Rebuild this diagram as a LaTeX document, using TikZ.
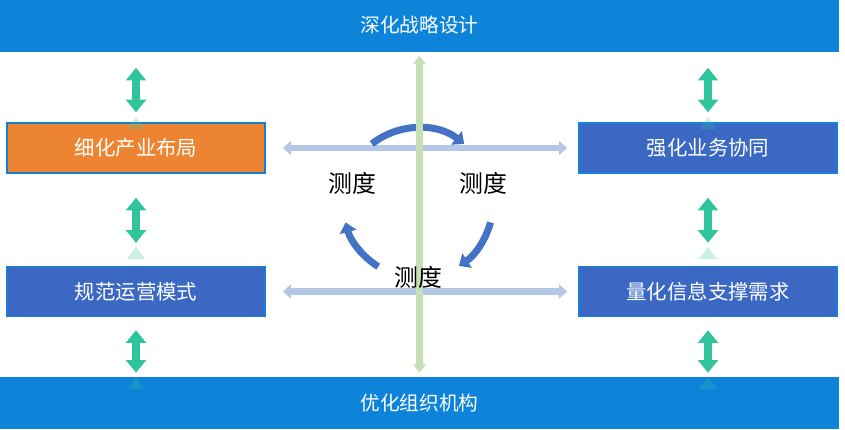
\documentclass[tikz,border=0pt]{standalone}
\usepackage{fontspec}
\setmainfont{Noto Sans CJK SC}
\usepackage{tikz}
\usetikzlibrary{arrows.meta,positioning}
\definecolor{barblue}{HTML}{0D83DA}
\definecolor{boxblue}{HTML}{3A68C2}
\definecolor{boxedge}{HTML}{1580DA}
\definecolor{boxorange}{HTML}{ED8432}
\definecolor{linkgreen}{HTML}{2FC49C}
\definecolor{spanblue}{HTML}{B4C7E7}
\definecolor{axisgreen}{HTML}{C5E0B4}
\definecolor{arcblue}{HTML}{4472C4}
\tikzstyle{bar}=[rectangle, fill=barblue, text=white, inner sep=0pt, minimum width=20.975cm, minimum height=1.3cm, font=\fontsize{14}{16}\selectfont]
\tikzstyle{box}=[rectangle, draw=boxedge, line width=1pt, fill=boxblue, text=white, inner sep=0pt, minimum width=6.45cm, minimum height=1.25cm, font=\fontsize{14.5}{16}\selectfont]
\tikzstyle{hotbox}=[box, fill=boxorange]
\tikzstyle{link}=[draw=linkgreen, line width=5.5pt, >={Triangle[width=14pt,length=9pt]}, <->]
\tikzstyle{glint}=[fill=linkgreen, opacity=.25]
\tikzstyle{span}=[draw=spanblue, line width=4.5pt, >={Triangle[width=10pt,length=6pt]}, <->]
\tikzstyle{axisline}=[draw=axisgreen, line width=5pt, >={Triangle[width=9pt,length=6pt]}, <->]
\tikzstyle{swing}=[draw=arcblue, line width=5pt, -{Triangle[width=12pt,length=7pt]}]
\tikzstyle{measure}=[font=\fontsize{17}{18}\selectfont, inner sep=0pt]

\begin{document}
\begin{tikzpicture}[x=.025cm, y=.025cm, yscale=-1]
	\useasboundingbox (0,0) rectangle (845,429);
	% bars and boxes
	\node[bar] (strategy) at (419.5,25.5) {深化战略设计};
	\node[bar] (org) at (419.5,403) {优化组织机构};
	\node[hotbox] (layout) at (136,148) {细化产业布局};
	\node[box] (synergy) at (708,148) {强化业务协同};
	\node[box] (operate) at (136,291.5) {规范运营模式};
	\node[box] (demand) at (708,291.5) {量化信息支撑需求};
	\coordinate (ltop) at (layout |- strategy.south);
	\coordinate (rtop) at (synergy |- strategy.south);
	\coordinate (lbot) at (operate |- org.north);
	\coordinate (rbot) at (demand |- org.north);
	% green links
	\foreach \a/\b in {ltop/layout, rtop/synergy}{
		\draw[link, shorten <=0.4cm, shorten >=0.25cm] (\a) -- (\b.north);
	}
	\foreach \a/\b in {layout/operate, synergy/demand}{
		\draw[link, shorten <=0.6cm, shorten >=0.575cm] (\a.south) -- (\b.north);
	}
	\foreach \a/\b in {operate/lbot, demand/rbot}{
		\draw[link, shorten <=0.325cm, shorten >=0.1cm] (\a.south) -- (\b);
	}
	\foreach \x in {136,708}{
		\foreach \y in {117,247,377}{
			\fill[glint] (\x,\y) -- ++(9,12) -- ++(-18,0) -- cycle;
		}
	}
	% cross lines
	\draw[span, shorten <=0.425cm, shorten >=0.275cm] (layout.east) -- (synergy.west);
	\draw[span, shorten <=0.425cm, shorten >=0.275cm] (operate.east) -- (demand.west);
	\coordinate (hub) at (418,203);
	\draw[swing] (hub) ++(-128:75) arc[start angle=-128, end angle=-52, radius=75];
	\draw[swing] (hub) ++(15:75) arc[start angle=15, end angle=57, radius=75];
	\draw[swing] (hub) ++(122:75) arc[start angle=122, end angle=165, radius=75];
	\draw[axisline, shorten <=0.1cm, shorten >=0.1cm] (org.north) -- (strategy.south);
	\node[measure] (mleft) at (352,183) {测度};
	\node[measure] (mright) at (483,183) {测度};
	\node[measure] (mbottom) at (418,277) {测度};
\end{tikzpicture}
\end{document}
